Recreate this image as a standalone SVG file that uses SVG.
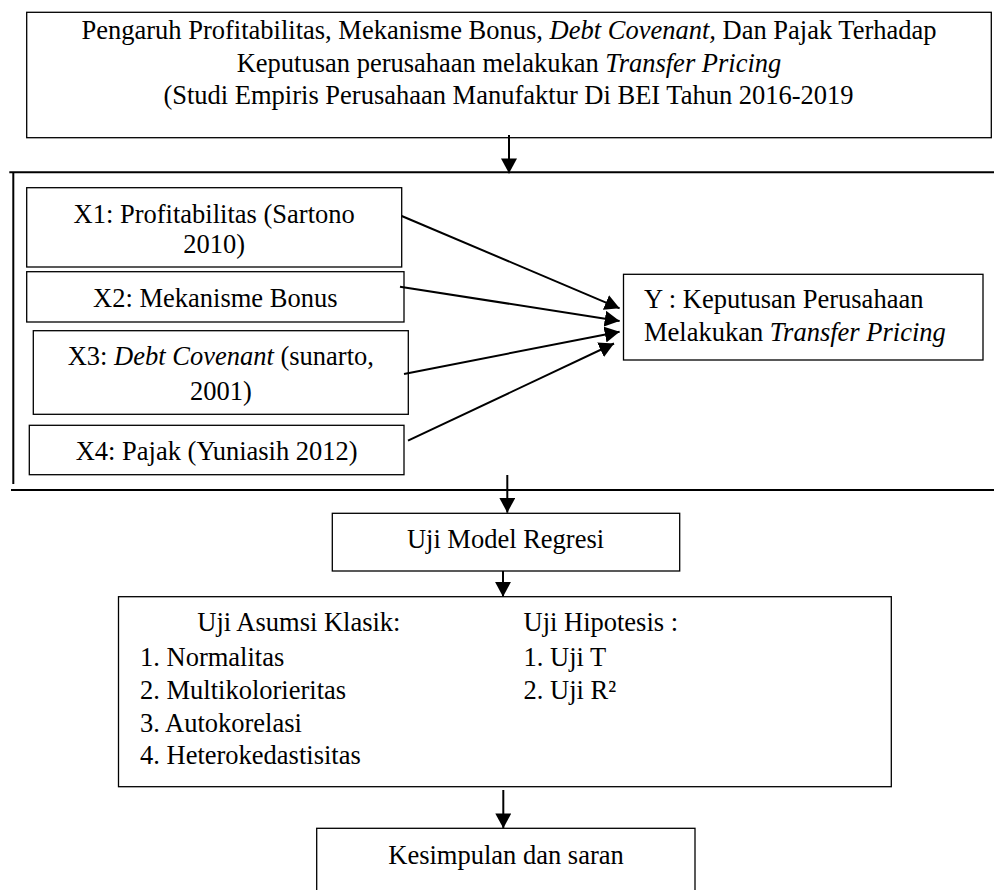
<svg xmlns="http://www.w3.org/2000/svg" width="994" height="890" viewBox="0 0 994 890">
<style>
  .box { fill: #ffffff; stroke: #000000; stroke-width: 1.3; }
  .t { font-family: "Liberation Serif", "Times New Roman", serif; font-size: 26.5px; fill: #000000; }
  .c { text-anchor: middle; }
  .i { font-style: italic; }
  .sep { stroke: #000000; stroke-width: 2; fill: none; }
  .arr { stroke: #000000; stroke-width: 2; fill: none; marker-end: url(#ah); }
</style>
<defs>
  <marker id="ah" markerUnits="userSpaceOnUse" markerWidth="16" markerHeight="16" viewBox="0 0 14 14" refX="13" refY="7" orient="auto">
    <path d="M0,0 L13,7 L0,14 z" fill="#000000"/>
  </marker>
</defs>
<rect width="994" height="890" fill="#ffffff"/>

<g id="title">
  <rect class="box" x="26.7" y="12.3" width="964.6" height="125.4"/>
  <text class="t c" x="509" y="39">Pengaruh Profitabilitas, Mekanisme Bonus, <tspan class="i">Debt Covenant,</tspan> Dan Pajak Terhadap</text>
  <text class="t c" x="509" y="71.5">Keputusan perusahaan melakukan <tspan class="i">Transfer Pricing</tspan></text>
  <text class="t c" x="508.5" y="104">(Studi Empiris Perusahaan Manufaktur Di BEI Tahun 2016-2019</text>
</g>

<g id="frame">
  <line class="sep" x1="9.3" y1="172.3" x2="994" y2="172.3"/>
  <line class="sep" x1="13.3" y1="172.3" x2="13.3" y2="484"/>
  <line class="sep" x1="11" y1="490" x2="994" y2="490"/>
</g>

<g id="x1">
  <rect class="box" x="26.7" y="187.7" width="375" height="79.3"/>
  <text class="t c" x="214.2" y="222.7">X1: Profitabilitas (Sartono</text>
  <text class="t c" x="214.2" y="253">2010)</text>
</g>

<g id="x2">
  <rect class="box" x="26.7" y="271.7" width="377.3" height="50.3"/>
  <text class="t c" x="215.3" y="307.3">X2: Mekanisme Bonus</text>
</g>

<g id="x3">
  <rect class="box" x="33.3" y="330.7" width="375" height="83.6"/>
  <text class="t c" x="220.8" y="365">X3: <tspan class="i">Debt Covenant</tspan> (sunarto,</text>
  <text class="t c" x="220.8" y="400">2001)</text>
</g>

<g id="x4">
  <rect class="box" x="29.3" y="425.3" width="374.7" height="49.4"/>
  <text class="t c" x="216.7" y="460">X4: Pajak (Yuniasih 2012)</text>
</g>

<g id="y">
  <rect class="box" x="623.5" y="274.3" width="359.5" height="85.7"/>
  <text class="t" x="644" y="308">Y : Keputusan Perusahaan</text>
  <text class="t" x="644" y="340.7">Melakukan <tspan class="i">Transfer Pricing</tspan></text>
</g>

<g id="regresi">
  <rect class="box" x="332.3" y="513.3" width="347.4" height="57.7"/>
  <text class="t c" x="505.5" y="548">Uji Model Regresi</text>
</g>

<g id="uji">
  <rect class="box" x="118.5" y="596.7" width="772.8" height="190"/>
  <text class="t" x="197.3" y="631">Uji Asumsi Klasik:</text>
  <text class="t" x="140" y="666">1. Normalitas</text>
  <text class="t" x="140" y="698.5">2. Multikolorieritas</text>
  <text class="t" x="140" y="731.5">3. Autokorelasi</text>
  <text class="t" x="140" y="764">4. Heterokedastisitas</text>
  <text class="t" x="523.5" y="631">Uji Hipotesis :</text>
  <text class="t" x="523.5" y="666">1. Uji T</text>
  <text class="t" x="523.5" y="698.5">2. Uji R²</text>
</g>

<g id="kesimpulan">
  <rect class="box" x="316.7" y="828.3" width="378.3" height="80"/>
  <text class="t c" x="506" y="864">Kesimpulan dan saran</text>
</g>

<g id="connectors">
  <line class="arr" x1="509" y1="135" x2="509" y2="173.3"/>
  <line class="arr" x1="401.7" y1="216" x2="619.6" y2="308.3"/>
  <line class="arr" x1="400" y1="286.7" x2="619.6" y2="321"/>
  <line class="arr" x1="404" y1="374" x2="619.6" y2="331.7"/>
  <line class="arr" x1="408" y1="440.7" x2="614" y2="343.5"/>
  <line class="arr" x1="507.3" y1="475" x2="507.3" y2="512.7"/>
  <line class="arr" x1="503" y1="571" x2="503" y2="596.7"/>
  <line class="arr" x1="503.3" y1="790" x2="503.3" y2="828.3"/>
</g>
</svg>
